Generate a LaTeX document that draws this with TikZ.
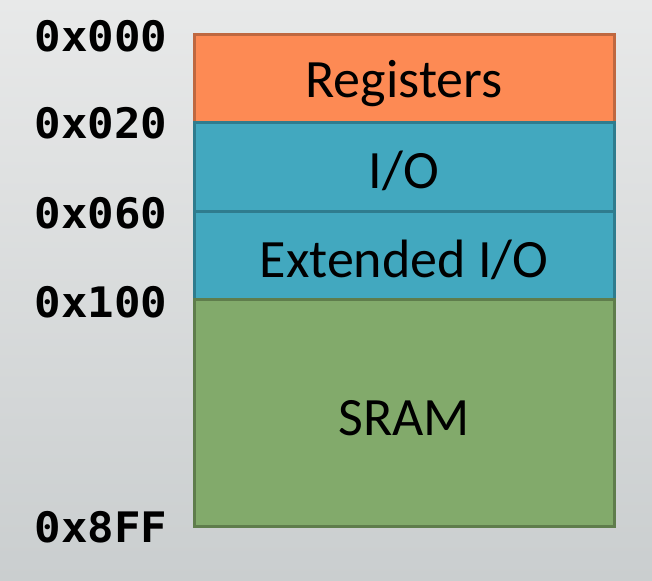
\documentclass[tikz,border=0pt]{standalone}
\usepackage{fontspec}
\setmainfont{Carlito}
\newfontfamily\monofnt{DejaVu Sans Mono}[BoldFont={DejaVu Sans Mono Bold}]
\definecolor{bgtop}{HTML}{E8E9E9}
\definecolor{bgbot}{HTML}{CACECF}
\definecolor{orfill}{HTML}{FD8A54}
\definecolor{ordraw}{HTML}{BF6840}
\definecolor{blfill}{HTML}{42A8BF}
\definecolor{bldraw}{HTML}{2F7C8E}
\definecolor{grfill}{HTML}{82AA6B}
\definecolor{grdraw}{HTML}{5F7D4C}
\tikzset{
  band/.style={line width=3pt},
  addr/.style={anchor=base, inner sep=0pt, xscale=1.05, font=\monofnt\bfseries\fontsize{42}{42}\selectfont},
  lbl/.style={anchor=base, inner sep=0pt, font=\fontsize{54}{54}\selectfont}
}
\begin{document}
\begin{tikzpicture}[x=1pt,y=-1pt]
\useasboundingbox (0,0) rectangle (652,580);
\shade[top color=bgtop, bottom color=bgbot] (0,0) rectangle (652,580);
\draw[band, fill=orfill, draw=ordraw] (194.5,34.5) rectangle (614.5,122.5);
\draw[band, fill=blfill, draw=bldraw] (194.5,122.5) rectangle (614.5,211.5);
\draw[band, fill=blfill, draw=bldraw] (194.5,211.5) rectangle (614.5,299.5);
\draw[band, fill=grfill, draw=grdraw] (194.5,299.5) rectangle (614.5,526.5);
\node[lbl] (reg) at (404,98) {Registers};
\node[lbl] (io) at (404,188) {I/O};
\node[lbl] (eio) at (404,277) {Extended I/O};
\node[lbl] (sram) at (404,435) {SRAM};
\node[addr] (a0) at (101,52) {0x000};
\node[addr] (a1) at (101,139) {0x020};
\node[addr] (a2) at (101,228) {0x060};
\node[addr] (a3) at (101,317) {0x100};
\node[addr] (a4) at (101,542) {0x8FF};
\end{tikzpicture}
\end{document}
